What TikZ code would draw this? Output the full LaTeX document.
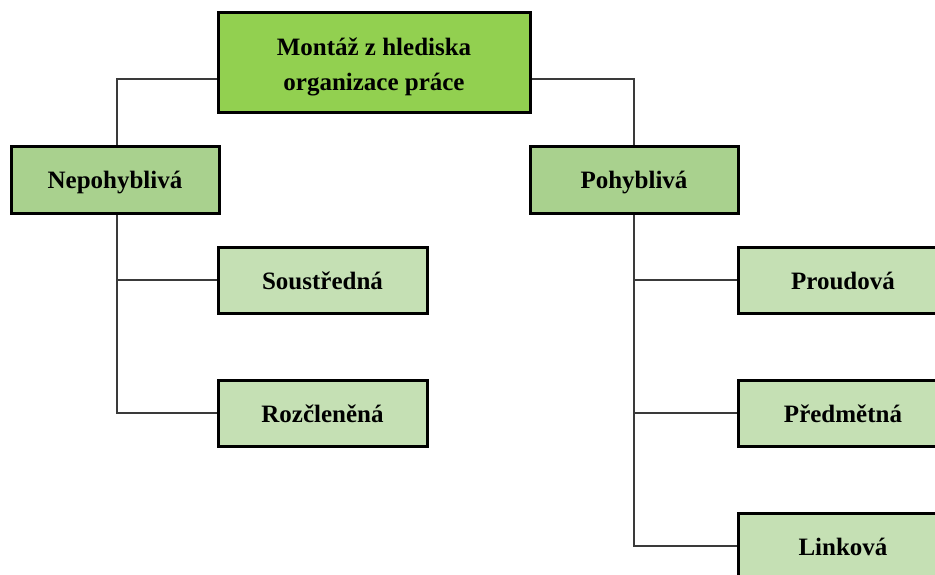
\documentclass[tikz,border=0pt]{standalone}
\usepackage{fontspec}
\setmainfont{Liberation Serif}
\usetikzlibrary{calc}
\definecolor{topgreen}{HTML}{92D050}
\definecolor{midgreen}{HTML}{A9D18E}
\definecolor{lightgreen}{HTML}{C5E0B4}
\definecolor{linkgray}{HTML}{3A3A3A}
\tikzset{
  box/.style={draw=black, line width=3pt, minimum height=66pt, inner sep=0pt,
    font=\fontsize{25}{35}\selectfont\bfseries},
  rootbox/.style={box, fill=topgreen, minimum width=312pt, minimum height=100pt},
  onebox/.style={box, text height=23pt, text depth=5pt},
  groupbox/.style={onebox, fill=midgreen, minimum width=208pt},
  leafbox/.style={onebox, fill=lightgreen, minimum width=209pt},
  link/.style={draw=linkgray, line width=1.4pt}
}
\begin{document}
\begin{tikzpicture}[x=1pt, y=-1pt]
  \useasboundingbox (0,0) rectangle (935,575);
  \clip (0,0) rectangle (935,575);

  % boxes
  \node[rootbox]  (root) at (374,63)
    {\raisebox{-8.75pt}[0pt][0pt]{\begin{tabular}{@{}c@{}}Montáž z hlediska\\organizace práce\end{tabular}}};
  \node[groupbox] (nep)  at (115,180)   {Nepohyblivá};
  \node[groupbox] (poh)  at (634,180)   {Pohyblivá};
  \node[leafbox]  (sou)  at (322.5,280) {Soustředná};
  \node[leafbox]  (roz)  at (322.5,413) {Rozčleněná};
  \node[leafbox]  (pro)  at (843,280)   {Proudová};
  \node[leafbox]  (pre)  at (843,413)   {Předmětná};
  \node[leafbox]  (lin)  at (843,546)   {Linková};

  % root to the two groups
  \draw[link] ($(root.west)+(0,16)$) -| ($(nep.north)+(2,0)$);
  \draw[link] ($(root.east)+(0,16)$) -| (poh.north);

  % left spine
  \coordinate (ls) at ($(nep.south)+(2,0)$);
  \draw[link] (ls) |- (roz.west);
  \draw[link] (ls |- sou.west) -- (sou.west);

  % right spine
  \draw[link] (poh.south) |- (lin.west);
  \draw[link] (poh.south |- pro.west) -- (pro.west);
  \draw[link] (poh.south |- pre.west) -- (pre.west);
\end{tikzpicture}
\end{document}
